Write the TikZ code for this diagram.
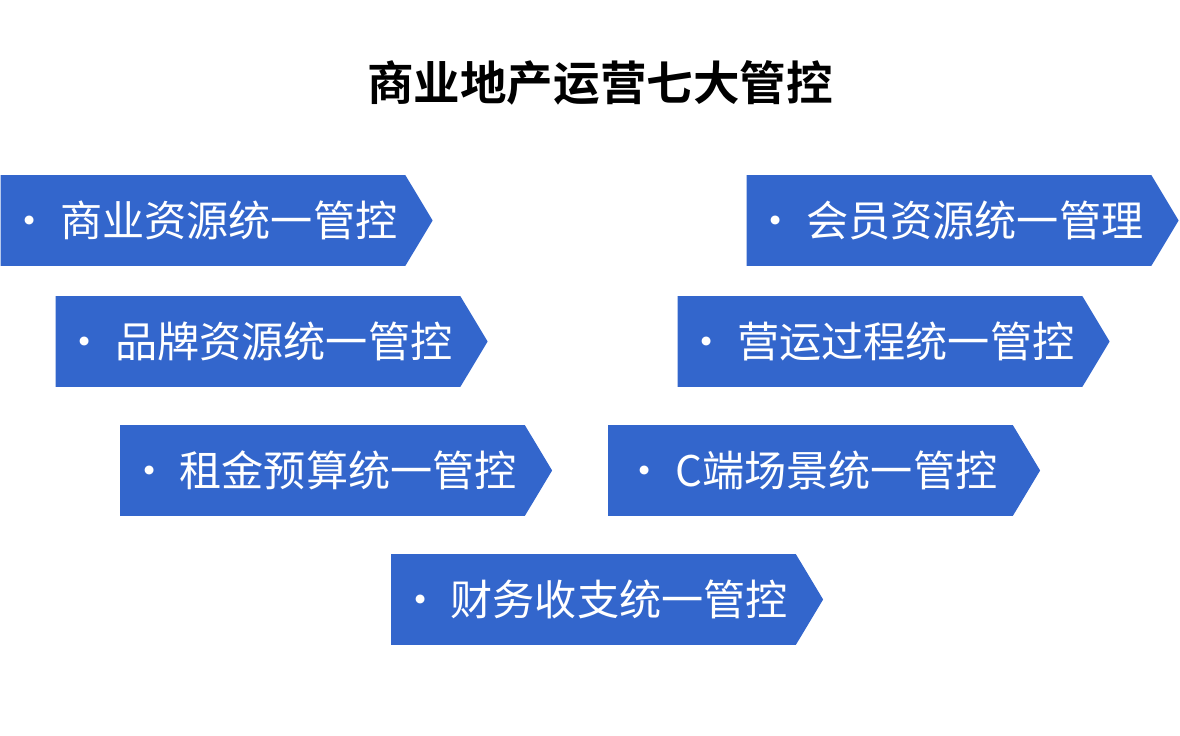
\documentclass[tikz,border=0pt]{standalone}
\usepackage{fontspec}
\newfontfamily\cjk{Noto Sans CJK SC}
\newfontfamily\cjkbold{Noto Sans CJK SC Bold}
\usetikzlibrary{positioning,shapes.symbols}
\definecolor{arrowblue}{HTML}{3366CC}
\tikzset{%
	chevron/.style = {signal, signal to=east, signal pointer angle=118,
		fill=arrowblue, draw=none, text=white, inner sep=0pt,
		minimum width=8.64cm, minimum height=1.82cm,
		font=\cjk\fontsize{24}{28}\selectfont}
}
\begin{document}
\begin{tikzpicture}[x=0.02cm, y=-0.02cm]
	\useasboundingbox (0,0) rectangle (1180,736);
	\node[font=\cjkbold\fontsize{26.5}{30}\selectfont] (title) at (600,83) {商业地产运营七大管控};
	
	\node[chevron] (biz) at (203,220.5) {• 商业资源统一管控};
	\node[chevron] (brand) at (258,341.5) {• 品牌资源统一管控};
	\node[chevron] (rent) at (322.5,470.5) {• 租金预算统一管控};
	\node[chevron] (member) at (949,220.5) {• 会员资源统一管理};
	\node[chevron] (oper) at (880,341.5) {• 营运过程统一管控};
	\node[chevron] (cside) at (810.5,470.5) {• C端场景统一管控};
	\node[chevron] (fin) at (593.5,599.5) {• 财务收支统一管控};
\end{tikzpicture}
\end{document}
